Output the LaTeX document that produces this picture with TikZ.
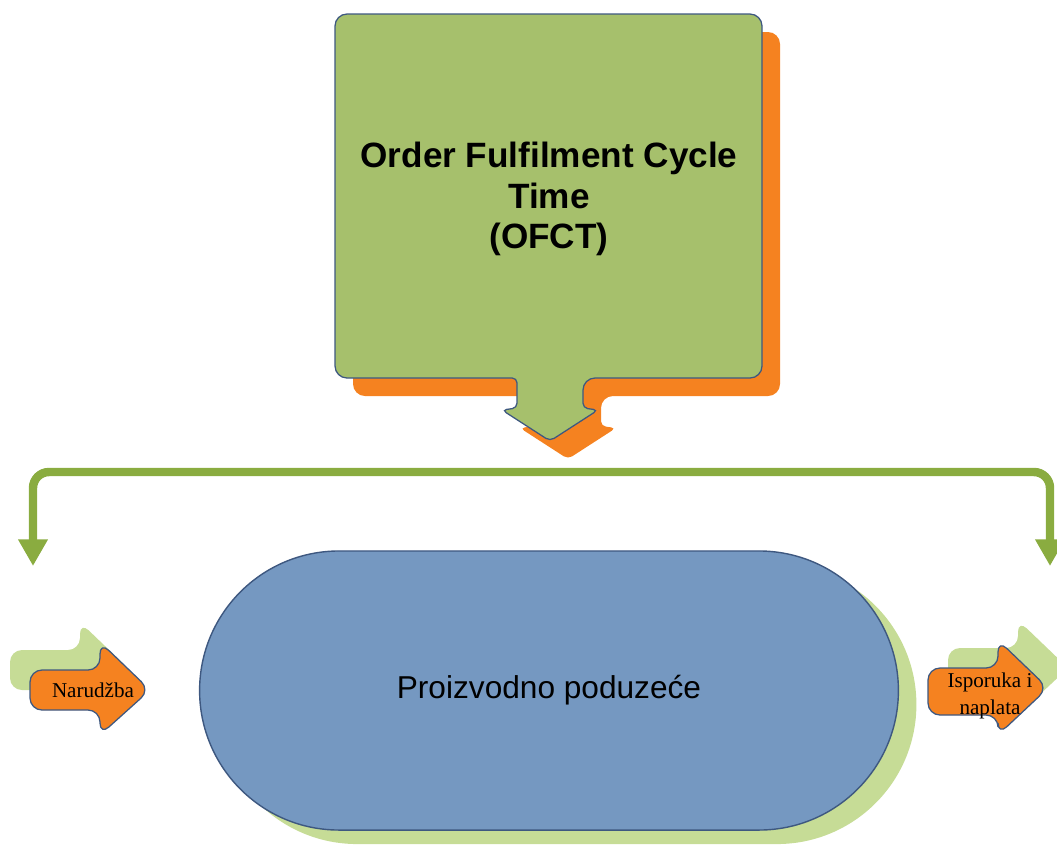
\documentclass[tikz,border=0pt]{standalone}
\usepackage{fontspec}
\setmainfont{Liberation Serif}
\setsansfont{Liberation Sans}
\usepackage{tikz}
\usetikzlibrary{shapes,arrows,arrows.meta,positioning,calc,shadows}
\definecolor{ofctgreen}{RGB}{166,192,108}
\definecolor{ofctorange}{RGB}{245,130,32}
\definecolor{flowgreen}{RGB}{138,172,64}
\definecolor{paleshadow}{RGB}{198,220,150}
\definecolor{firmblue}{RGB}{117,152,193}
\definecolor{edgeblue}{RGB}{62,88,128}

\begin{document}
\begin{tikzpicture}[x=0.025cm,y=-0.025cm,
    flow/.style={draw=flowgreen, line width=6pt, rounded corners=0.4cm,
        -{Triangle[width=20pt,length=19pt]}},
    tag/.style={fill=ofctorange, draw=edgeblue, line width=0.9pt, rounded corners=0.3cm},
    tagshadow/.style={fill=paleshadow, rounded corners=0.3cm}]
    \useasboundingbox (0,0) rectangle (1057,844);

    % Callout with down arrow: orange shadow, then green body
    \fill[ofctorange, shift={(18,18)}]
        [rounded corners=0.3cm] (517,378) -- (335,378) -- (335,14) -- (762,14) -- (762,378) -- (583,378)
        [rounded corners=0.12cm] -- (583,408) -- (598,410) -- (550,441) -- (502,410) -- (517,408) -- cycle;
    \draw[fill=ofctgreen, draw=edgeblue, line width=0.9pt]
        [rounded corners=0.3cm] (517,378) -- (335,378) -- (335,14) -- (762,14) -- (762,378) -- (583,378)
        [rounded corners=0.12cm] -- (583,408) -- (598,410) -- (550,441) -- (502,410) -- (517,408) -- cycle;
    \node[font=\sffamily\bfseries\fontsize{25}{29}\selectfont, align=center]
        (ofct) at (549,199) {Order Fulfilment Cycle\\Time\\(OFCT)};

    % Green bracket to both ends
    \coordinate (split) at (550,472);
    \coordinate (inL) at (33,566);
    \coordinate (outR) at (1050,566);
    \draw[flow] (split) -| (inL);
    \draw[flow] (split) -| (outR);

    % Company
    \node[rounded rectangle, fill=firmblue, draw=edgeblue, line width=1pt,
        minimum width=17.7cm, minimum height=6.975cm,
        general shadow={fill=paleshadow, shadow xshift=0.45cm, shadow yshift=-0.35cm},
        font=\sffamily\fontsize{22.5}{26}\selectfont]
        (firm) at (549,690.5) {Proizvodno poduzeće};

    % Input arrow (order)
    \fill[tagshadow, shift={(-20,-20)}]
        (30,670) -- (100,670) -- (100,642) -- (150,690) -- (100,735) -- (100,710) -- (30,710) -- cycle;
    \draw[tag]
        (30,670) -- (100,670) -- (100,642) -- (150,690) -- (100,735) -- (100,710) -- (30,710) -- cycle;
    \node[font=\fontsize{15}{17}\selectfont] (order) at (93,690) {Narudžba};

    % Output arrow (delivery)
    \fill[tagshadow, shift={(20,-20)}]
        (928,668) -- (998,668) -- (998,640) -- (1048,688) -- (998,735) -- (998,715) -- (928,715) -- cycle;
    \draw[tag]
        (928,668) -- (998,668) -- (998,640) -- (1048,688) -- (998,735) -- (998,715) -- (928,715) -- cycle;
    \node[font=\fontsize{15}{19}\selectfont, align=center, inner sep=0pt]
        (delivery) at (990,696) {Isporuka i\\naplata};

\end{tikzpicture}
\end{document}
